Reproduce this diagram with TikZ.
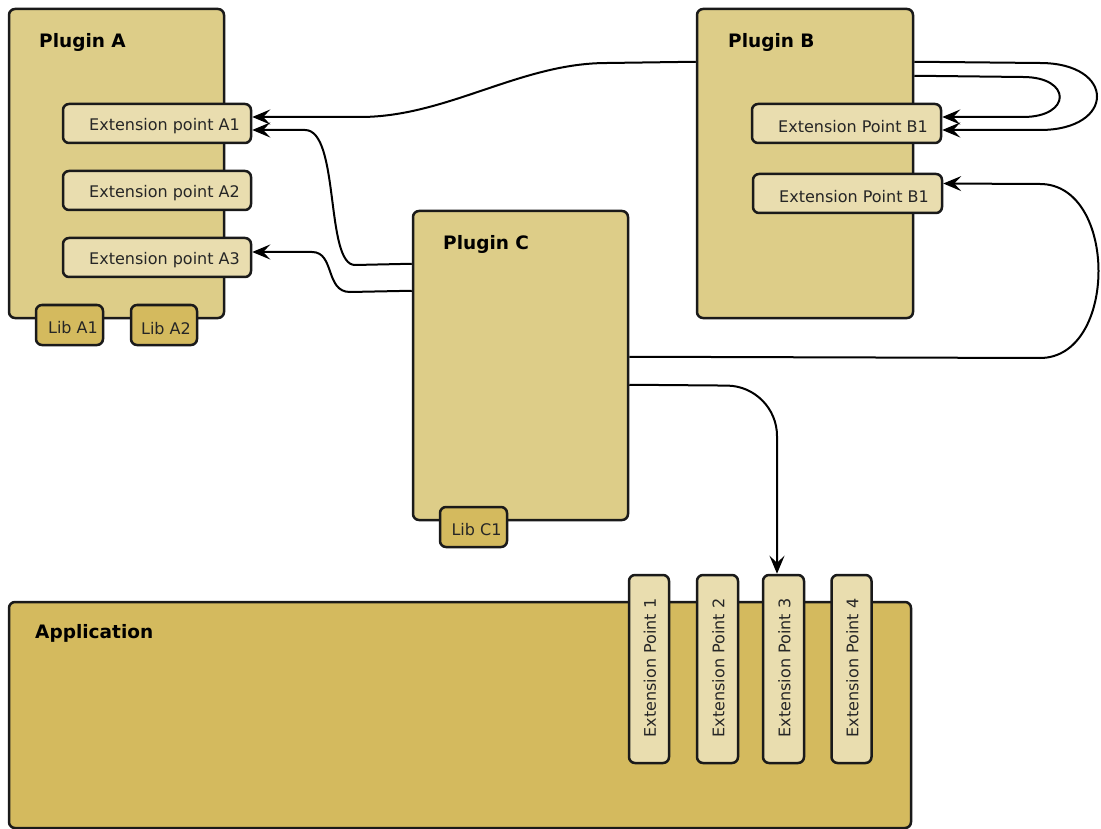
\documentclass[tikz,border=0pt]{standalone}
\usepackage{fontspec}
\setmainfont{DejaVu Sans}
\usetikzlibrary{arrows.meta}
\definecolor{plugfill}{HTML}{DDCD88}
\definecolor{extfill}{HTML}{E9DDAF}
\definecolor{libfill}{HTML}{D4BA5E}
\definecolor{edge}{HTML}{1A1A1A}
\tikzset{
  box/.style={draw=edge, line width=2.5pt, rounded corners=6pt, inner sep=0pt},
  plugin/.style={box, fill=plugfill},
  extbox/.style={box, fill=extfill},
  libbox/.style={box, fill=libfill},
  appbox/.style={box, fill=libfill},
  lbl/.style={font=\fontsize{16}{19}\selectfont, text=black!85, inner sep=0pt},
  hlbl/.style={lbl, yshift=-2.5pt},
  title/.style={font=\fontsize{18.5}{22}\selectfont\bfseries, inner sep=0pt, anchor=base west},
  conn/.style={draw=black, line width=2pt, -{Stealth[length=18pt,width=15pt,inset=7pt]}},
}
\begin{document}
\begin{tikzpicture}[x=1pt,y=-1pt]
\useasboundingbox (0,0) rectangle (1101,829);
% Plugin A
\node[plugin, minimum width=215pt, minimum height=309pt] (pa) at (116.5,163.5) {};
\node[title] (pat) at (39,48) {Plugin A};
\node[extbox, minimum width=188pt, minimum height=39pt] (a1) at (157,123.5) {};
\node[extbox, minimum width=188pt, minimum height=39pt] (a2) at (157,190.5) {};
\node[extbox, minimum width=188pt, minimum height=39pt] (a3) at (157,257.5) {};
\node[hlbl] (a1t) at (164.5,123.5) {Extension point A1};
\node[hlbl] (a2t) at (164.5,190.5) {Extension point A2};
\node[hlbl] (a3t) at (164.5,257.5) {Extension point A3};
\node[libbox, minimum width=67pt, minimum height=40pt] (la1) at (69.5,325) {};
\node[hlbl] (la1t) at (73,325) {Lib A1};
\node[libbox, minimum width=66pt, minimum height=40pt] (la2) at (164,325) {};
\node[hlbl] (la2t) at (166,326) {Lib A2};
% Plugin B
\node[plugin, minimum width=216pt, minimum height=309pt] (pb) at (805,163.5) {};
\node[title] (pbt) at (728,48) {Plugin B};
\node[extbox, minimum width=189pt, minimum height=39pt] (b1a) at (846.5,123.5) {};
\node[extbox, minimum width=189pt, minimum height=39pt] (b1b) at (847.5,193.5) {};
\node[hlbl] (b1at) at (853,124) {Extension Point B1};
\node[hlbl] (b1bt) at (854,194) {Extension Point B1};
% Plugin C
\node[plugin, minimum width=215pt, minimum height=309pt] (pc) at (520.5,365.5) {};
\node[title] (pct) at (443,250) {Plugin C};
\node[libbox, minimum width=67pt, minimum height=40pt] (lc1) at (473.5,527) {};
\node[hlbl] (lc1t) at (476.5,527) {Lib C1};
% Application
\node[appbox, minimum width=902pt, minimum height=226pt] (app) at (460,715) {};
\node[title] (appt) at (35,638) {Application};
\node[extbox, minimum width=40pt, minimum height=188pt] (ep1) at (649,669) {};
\node[extbox, minimum width=41pt, minimum height=188pt] (ep2) at (717.5,669) {};
\node[extbox, minimum width=41pt, minimum height=188pt] (ep3) at (783.5,669) {};
\node[extbox, minimum width=40pt, minimum height=188pt] (ep4) at (851.5,669) {};
\node[lbl, rotate=90] (ep1t) at (650,668) {Extension Point 1};
\node[lbl, rotate=90] (ep2t) at (718.5,668) {Extension Point 2};
\node[lbl, rotate=90] (ep3t) at (784.5,668) {Extension Point 3};
\node[lbl, rotate=90] (ep4t) at (852.5,668) {Extension Point 4};
\coordinate (x777) at (777,0);
% connectors
\draw[conn] ([yshift=-54pt]pb.north west) -- (607,63) .. controls (520,63) and (447,117) .. (360,117) -- ([yshift=6.5pt]a1.east);
\draw[conn] ([yshift=-54pt]pc.north west) -- (355,265) .. controls (325,265) and (340,130) .. (305,130) -- ([yshift=-6.5pt]a1.east);
\draw[conn] ([yshift=-81pt]pc.north west) -- (350,292) .. controls (325,292) and (335,252) .. (312,252) -- ([yshift=5.5pt]a3.east);
\draw[conn] ([yshift=-54pt]pb.north east) -- (1040,63) .. controls (1116,63) and (1116,130) .. (1040,130) -- ([yshift=-6.5pt]b1a.east);
\draw[conn] ([yshift=-68pt]pb.north east) -- (1023,77) .. controls (1072,77) and (1072,117) .. (1023,117) -- ([yshift=6.5pt]b1a.east);
\draw[conn] ([yshift=-147pt]pc.north east) -- (1040,358) .. controls (1118,358) and (1118,184) .. (1040,184) -- ([yshift=10pt]b1b.east);
\draw[conn, rounded corners=50pt] ([yshift=-175pt]pc.north east) -- (777,386) -- (ep3.north -| x777);
\end{tikzpicture}
\end{document}
